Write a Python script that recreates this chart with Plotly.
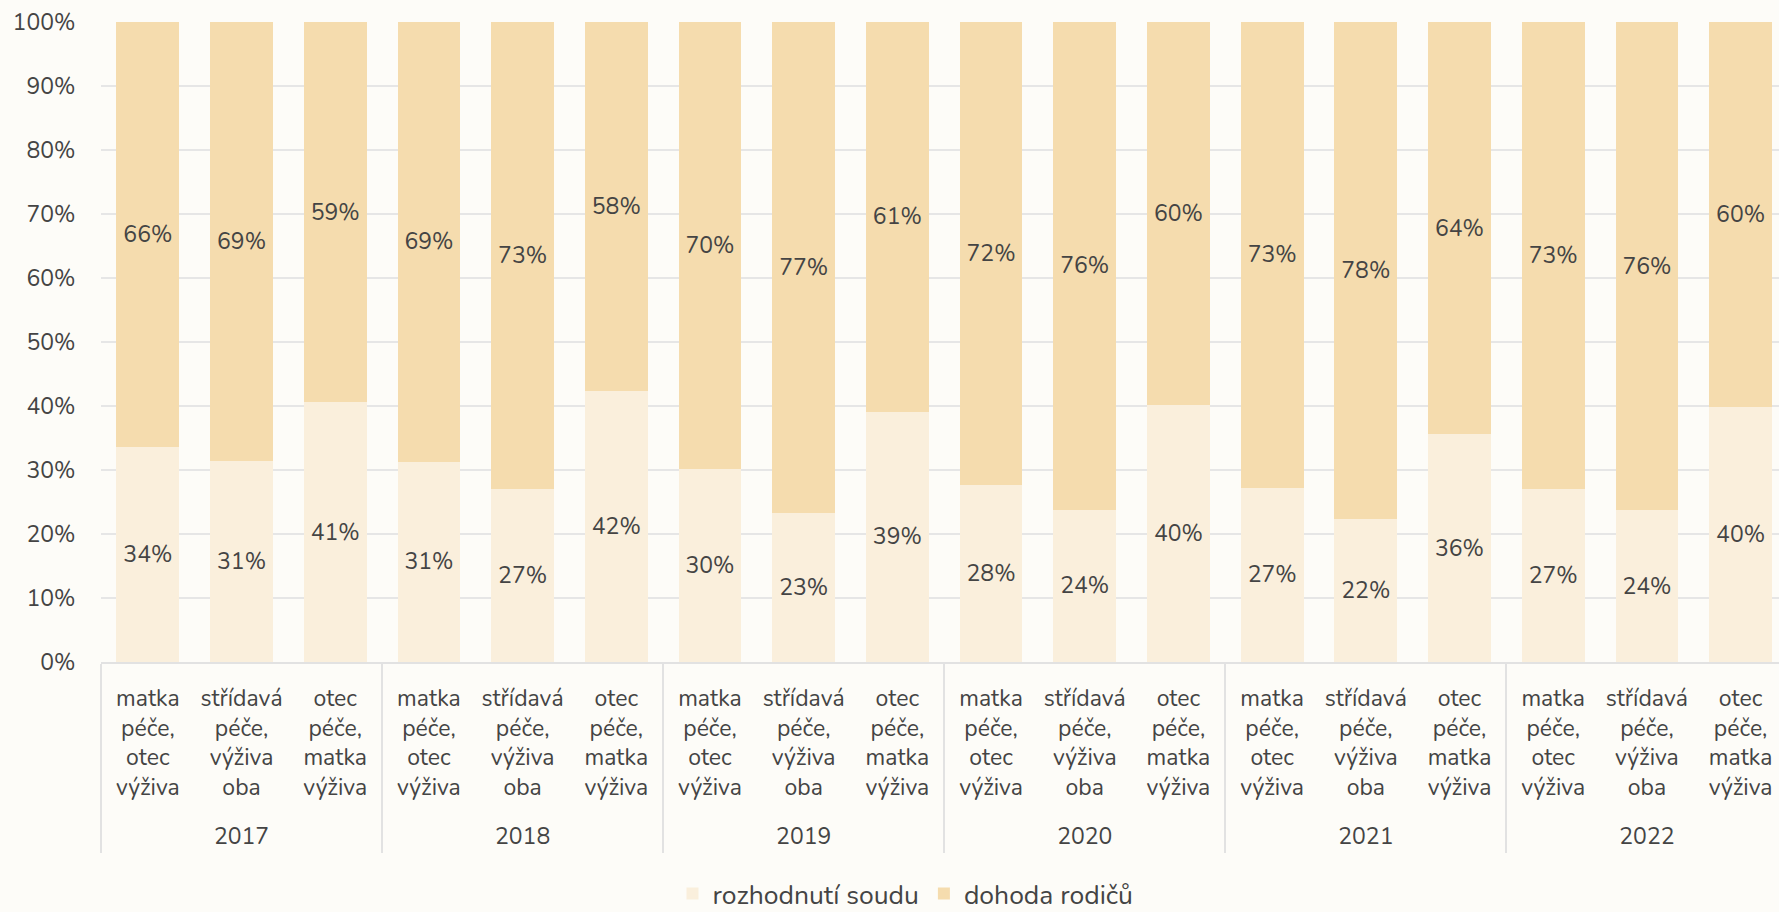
import plotly.graph_objects as go

years = ["<br>2017"] * 3 + ["<br>2018"] * 3 + ["<br>2019"] * 3 + ["<br>2020"] * 3 + ["<br>2021"] * 3 + ["<br>2022"] * 3
kinds = ["matka<br>péče,<br>otec<br>výživa", "střídavá<br>péče,<br>výživa<br>oba", "otec<br>péče,<br>matka<br>výživa"] * 6

soud = [33.6, 31.4, 40.6, 31.3, 27.1, 42.3, 30.2, 23.3, 39.1, 27.7, 23.8, 40.1, 27.2, 22.3, 35.6, 27.1, 23.7, 39.8]
dohoda = [66.4, 68.6, 59.4, 68.7, 72.9, 57.7, 69.8, 76.7, 60.9, 72.3, 76.2, 59.9, 72.8, 77.7, 64.4, 72.9, 76.3, 60.2]

series_names = ["rozhodnutí soudu", "dohoda rodičů"]
colors = ["#FAEFDC", "#F5DCAE"]

FONT = "Nunito, Lato, sans-serif"
TXT = "#444444"
BG = "#FDFCF8"
FS = 23

fig = go.Figure()
for name, vals, col in zip(series_names, [soud, dohoda], colors):
    fig.add_trace(go.Bar(
        x=[years, kinds], y=vals, name=name,
        marker=dict(color=col, line=dict(width=0)),
        texttemplate="%{y:.0f}%", textposition="inside",
        insidetextanchor="middle",
        textfont=dict(family=FONT, size=FS, color=TXT),
        hoverinfo="skip",
    ))

fig.update_layout(
    barmode="stack",
    bargap=0.33,
    width=1779, height=912,
    margin=dict(l=101, r=0, t=22, b=250),
    paper_bgcolor=BG, plot_bgcolor=BG,
    font=dict(family=FONT, size=FS, color=TXT),
    legend=dict(
        orientation="h", traceorder="normal",
        xref="container", x=0.509, xanchor="center",
        yref="container", y=0.02, yanchor="middle",
        font=dict(family=FONT, size=26.5, color=TXT),
        bgcolor="rgba(0,0,0,0)", itemwidth=30,
    ),
    showlegend=True,
)
fig.update_xaxes(
    type="multicategory",
    range=[-0.5, 17.41],
    showline=True, linecolor="#E2E2E2", linewidth=2,
    showdividers=True, dividercolor="#E2E2E2", dividerwidth=2,
    tickfont=dict(family=FONT, size=FS, color=TXT),
    ticks="", showgrid=False,
    ticklabelstandoff=14,
)
fig.update_yaxes(
    range=[0, 100], dtick=10, ticksuffix="%",
    showgrid=True, gridcolor="#E6E6E6", gridwidth=1.5,
    zeroline=False, showline=False,
    tickfont=dict(family=FONT, size=FS, color=TXT),
    ticks="outside", ticklen=20, tickcolor=BG,
)

fig.write_html(
    "out.html",
    config={"displayModeBar": False},
    post_script="document.body.style.margin='0';document.body.style.overflow='hidden';document.body.style.background='" + BG + "';",
)
